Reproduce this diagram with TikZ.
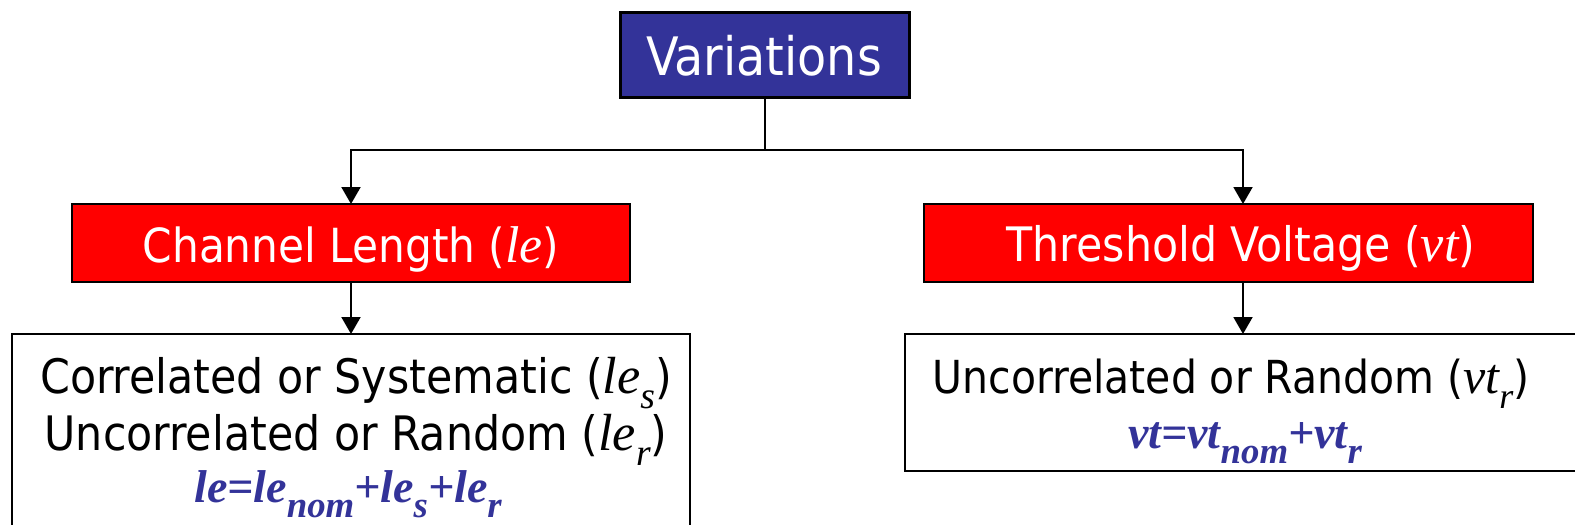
\documentclass[tikz,border=0pt]{standalone}
\usepackage{fontspec}
\usepackage{graphicx}
\setmainfont{DejaVu Sans Condensed}
\newfontfamily\tmsfont{Liberation Serif}
\usetikzlibrary{arrows.meta}
\definecolor{vblue}{HTML}{333399}
\definecolor{vred}{HTML}{FF0000}
\newcommand\tms[1]{{\tmsfont\itshape\scalebox{1.1}{#1}}}
\newcommand\sbx[1]{\raisebox{-0.3em}{\scalebox{0.72}{#1}}}
\newcommand\fsb[1]{\raisebox{-0.33em}{\scalebox{0.8}{#1}}}
\newcommand\fsz[1]{\fontsize{#1}{#1}\selectfont}
\tikzset{
  boxbase/.style={rectangle, inner sep=0pt, outer sep=0pt},
  topbox/.style={boxbase, draw=black, line width=3pt, fill=vblue},
  redbox/.style={boxbase, draw=black, line width=1.5pt, fill=vred},
  whitebox/.style={boxbase, draw=black, line width=2pt, fill=white},
  txt/.style={anchor=base, inner sep=0pt, outer sep=0pt},
  conn/.style={draw=black, line width=2pt},
  arr/.style={conn, -{Triangle[width=19pt,length=17pt]}},
}
\begin{document}
\begin{tikzpicture}[x=1pt, y=-1pt]
\useasboundingbox[fill=white] (0,0) rectangle (1575,525);
% boxes
\node[topbox, minimum width=289pt, minimum height=85pt] (var) at (764.5,54.5) {};
\node[redbox, minimum width=558pt, minimum height=78pt] (le) at (351,243) {};
\node[redbox, minimum width=609pt, minimum height=78pt] (vt) at (1228.5,243) {};
\node[whitebox, minimum width=678pt, minimum height=211pt] (lebox) at (351,439.5) {};
\node[whitebox, minimum width=676pt, minimum height=137pt] (vtbox) at (1243,402.5) {};
% texts
\node[txt, text=white] (vartxt) at (764,75) {\fsz{53}Variations};
\node[txt, text=white] (letxt) at (351,262) {\fsz{47}Channel Length (\tms{le})};
\node[txt, text=white] (vttxt) at (1241,261) {\fsz{47.5}Threshold Voltage (\tms{vt})};
\node[txt] (l1) at (356,393) {\fsz{47.5}Correlated or Systematic (\tms{le\sbx{s}})};
\node[txt] (l2) at (356,450) {\fsz{47.5}Uncorrelated or Random (\tms{le\sbx{r}})};
\node[txt, text=vblue] (l3) at (348,502) {\fsz{46}\tmsfont\bfseries\itshape le=le\fsb{nom}+le\fsb{s}+le\fsb{r}};
\node[txt] (r1) at (1231,393) {\fsz{45.5}Uncorrelated or Random (\tms{vt\sbx{r}})};
\node[txt, text=vblue] (r2) at (1245,448) {\fsz{46}\tmsfont\bfseries\itshape vt=vt\fsb{nom}+vt\fsb{r}};
% connectors
\coordinate (j) at (var.south |- 0,150);
\draw[conn] (var.south) -- (j);
\draw[arr] (j) -| (le.north);
\draw[arr] (j) -| (vtbox.north |- vt.north);
\draw[arr] (le.south) -- (lebox.north);
\draw[arr] (vtbox.north |- vt.south) -- (vtbox.north);
\end{tikzpicture}
\end{document}
